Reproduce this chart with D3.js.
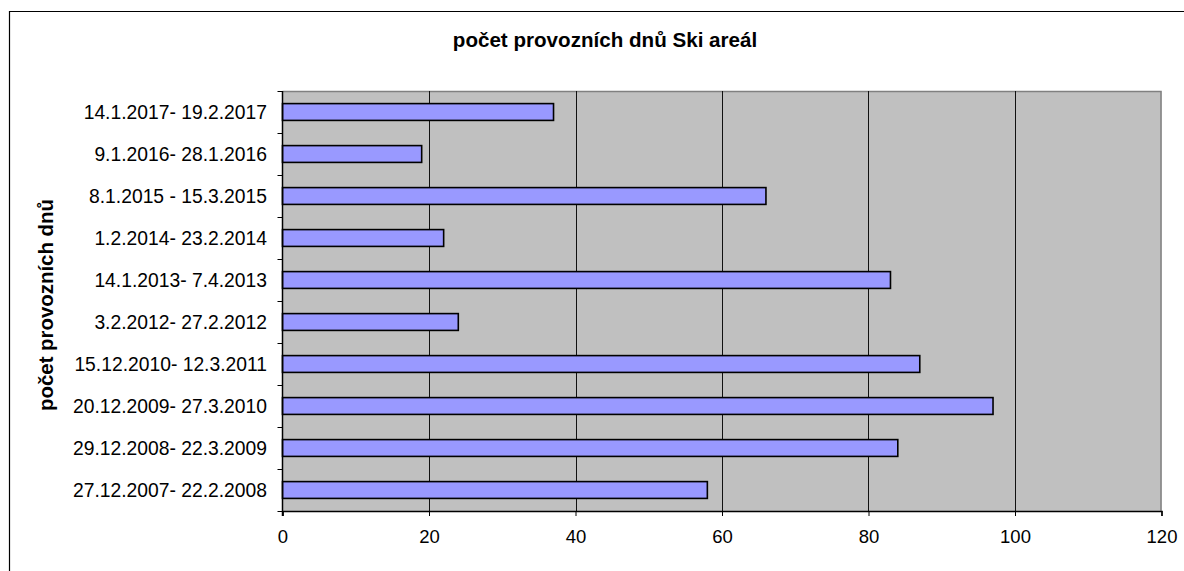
<!DOCTYPE html>
<html>
<head>
<meta charset="utf-8">
<script src="https://cdn.jsdelivr.net/npm/d3@7"></script>
<style>
  html, body { margin: 0; padding: 0; background: #fff; overflow: hidden; }
  svg { display: block; font-family: "Liberation Sans", Arial, sans-serif; }
</style>
</head>
<body>
<svg id="chart" width="1184" height="571"></svg>
<script>
const categories = [
  "14.1.2017- 19.2.2017",
  "9.1.2016- 28.1.2016",
  "8.1.2015 - 15.3.2015",
  "1.2.2014- 23.2.2014",
  "14.1.2013- 7.4.2013",
  "3.2.2012- 27.2.2012",
  "15.12.2010- 12.3.2011",
  "20.12.2009- 27.3.2010",
  "29.12.2008- 22.3.2009",
  "27.12.2007- 22.2.2008"
];
const values = [37, 19, 66, 22, 83, 24, 87, 97, 84, 58];
const xTicks = [0, 20, 40, 60, 80, 100, 120];
const chartTitle = "počet provozních dnů Ski areál";
const yAxisTitle = "počet provozních dnů";

const svg = d3.select("#chart");
const plot = { left: 282.5, right: 1161.5, top: 91, bottom: 511 };

// outer frame (only top and left edges visible; continues past canvas)
svg.append("path")
  .attr("d", "M9.5,571V11.5H1184")
  .attr("fill", "none").attr("stroke", "#000").attr("stroke-width", 1.2);

const x = d3.scaleLinear().domain([0, 120]).range([plot.left, plot.right]);
const y = d3.scaleBand().domain(categories).range([plot.top, plot.bottom]).paddingInner(0).paddingOuter(0);

// plot background
svg.append("rect")
  .attr("x", plot.left).attr("y", plot.top)
  .attr("width", plot.right - plot.left).attr("height", plot.bottom - plot.top)
  .attr("fill", "#C0C0C0");

// top and right gray border
svg.append("path")
  .attr("d", `M${plot.left},${plot.top + 0.5}H${plot.right - 0.5}V${plot.bottom}`)
  .attr("fill", "none").attr("stroke", "#808080").attr("stroke-width", 1.5);

// gridlines
svg.append("g").selectAll("line")
  .data(xTicks.filter(d => d > 0 && d < 120))
  .join("line")
  .attr("x1", d => Math.round(x(d)) + 0.5).attr("x2", d => Math.round(x(d)) + 0.5)
  .attr("y1", plot.top).attr("y2", plot.bottom)
  .attr("stroke", "#111").attr("stroke-width", 1);

// bars
const bandH = y.bandwidth();
const barH = bandH / 2.5;
svg.append("g").selectAll("rect")
  .data(values)
  .join("rect")
  .attr("x", x(0))
  .attr("y", (d, i) => y(categories[i]) + (bandH - barH) / 2)
  .attr("width", d => x(d) - x(0))
  .attr("height", barH)
  .attr("fill", "#9999FF")
  .attr("stroke", "#000")
  .attr("stroke-width", 1.6);

// x axis
const xAxis = d3.axisBottom(x).tickValues(xTicks).tickSize(5).tickPadding(14);
const gx = svg.append("g").attr("transform", `translate(0,${plot.bottom})`).call(xAxis);
gx.select(".domain").attr("stroke", "#000").attr("stroke-width", 1.5);
gx.selectAll(".tick line").attr("stroke", "#000");
gx.selectAll("text").attr("font-size", "18.5px").attr("fill", "#000")
  .attr("font-family", "'Liberation Sans', Arial, sans-serif");

// y axis line
svg.append("line")
  .attr("x1", plot.left).attr("x2", plot.left)
  .attr("y1", plot.top).attr("y2", plot.bottom + 5)
  .attr("stroke", "#000").attr("stroke-width", 1.5);

// y category boundary ticks
const boundaries = categories.map(c => y(c)).concat([plot.bottom]);
svg.append("g").selectAll("line")
  .data(boundaries)
  .join("line")
  .attr("x1", plot.left - 5).attr("x2", plot.left)
  .attr("y1", d => Math.round(d) + 0.5).attr("y2", d => Math.round(d) + 0.5)
  .attr("stroke", "#000");

// y labels
svg.append("g").selectAll("text")
  .data(categories)
  .join("text")
  .attr("x", 267)
  .attr("y", d => y(d) + bandH / 2)
  .attr("dy", "0.35em")
  .attr("text-anchor", "end")
  .attr("font-size", "19.3px")
  .attr("fill", "#000")
  .text(d => d);

// title
svg.append("text")
  .attr("x", 605).attr("y", 47)
  .attr("text-anchor", "middle")
  .attr("font-size", "20.6px").attr("font-weight", "bold")
  .text(chartTitle);

// y axis title
svg.append("text")
  .attr("transform", "translate(53,305) rotate(-90)")
  .attr("text-anchor", "middle")
  .attr("font-size", "20.4px").attr("font-weight", "bold")
  .text(yAxisTitle);
</script>
</body>
</html>
